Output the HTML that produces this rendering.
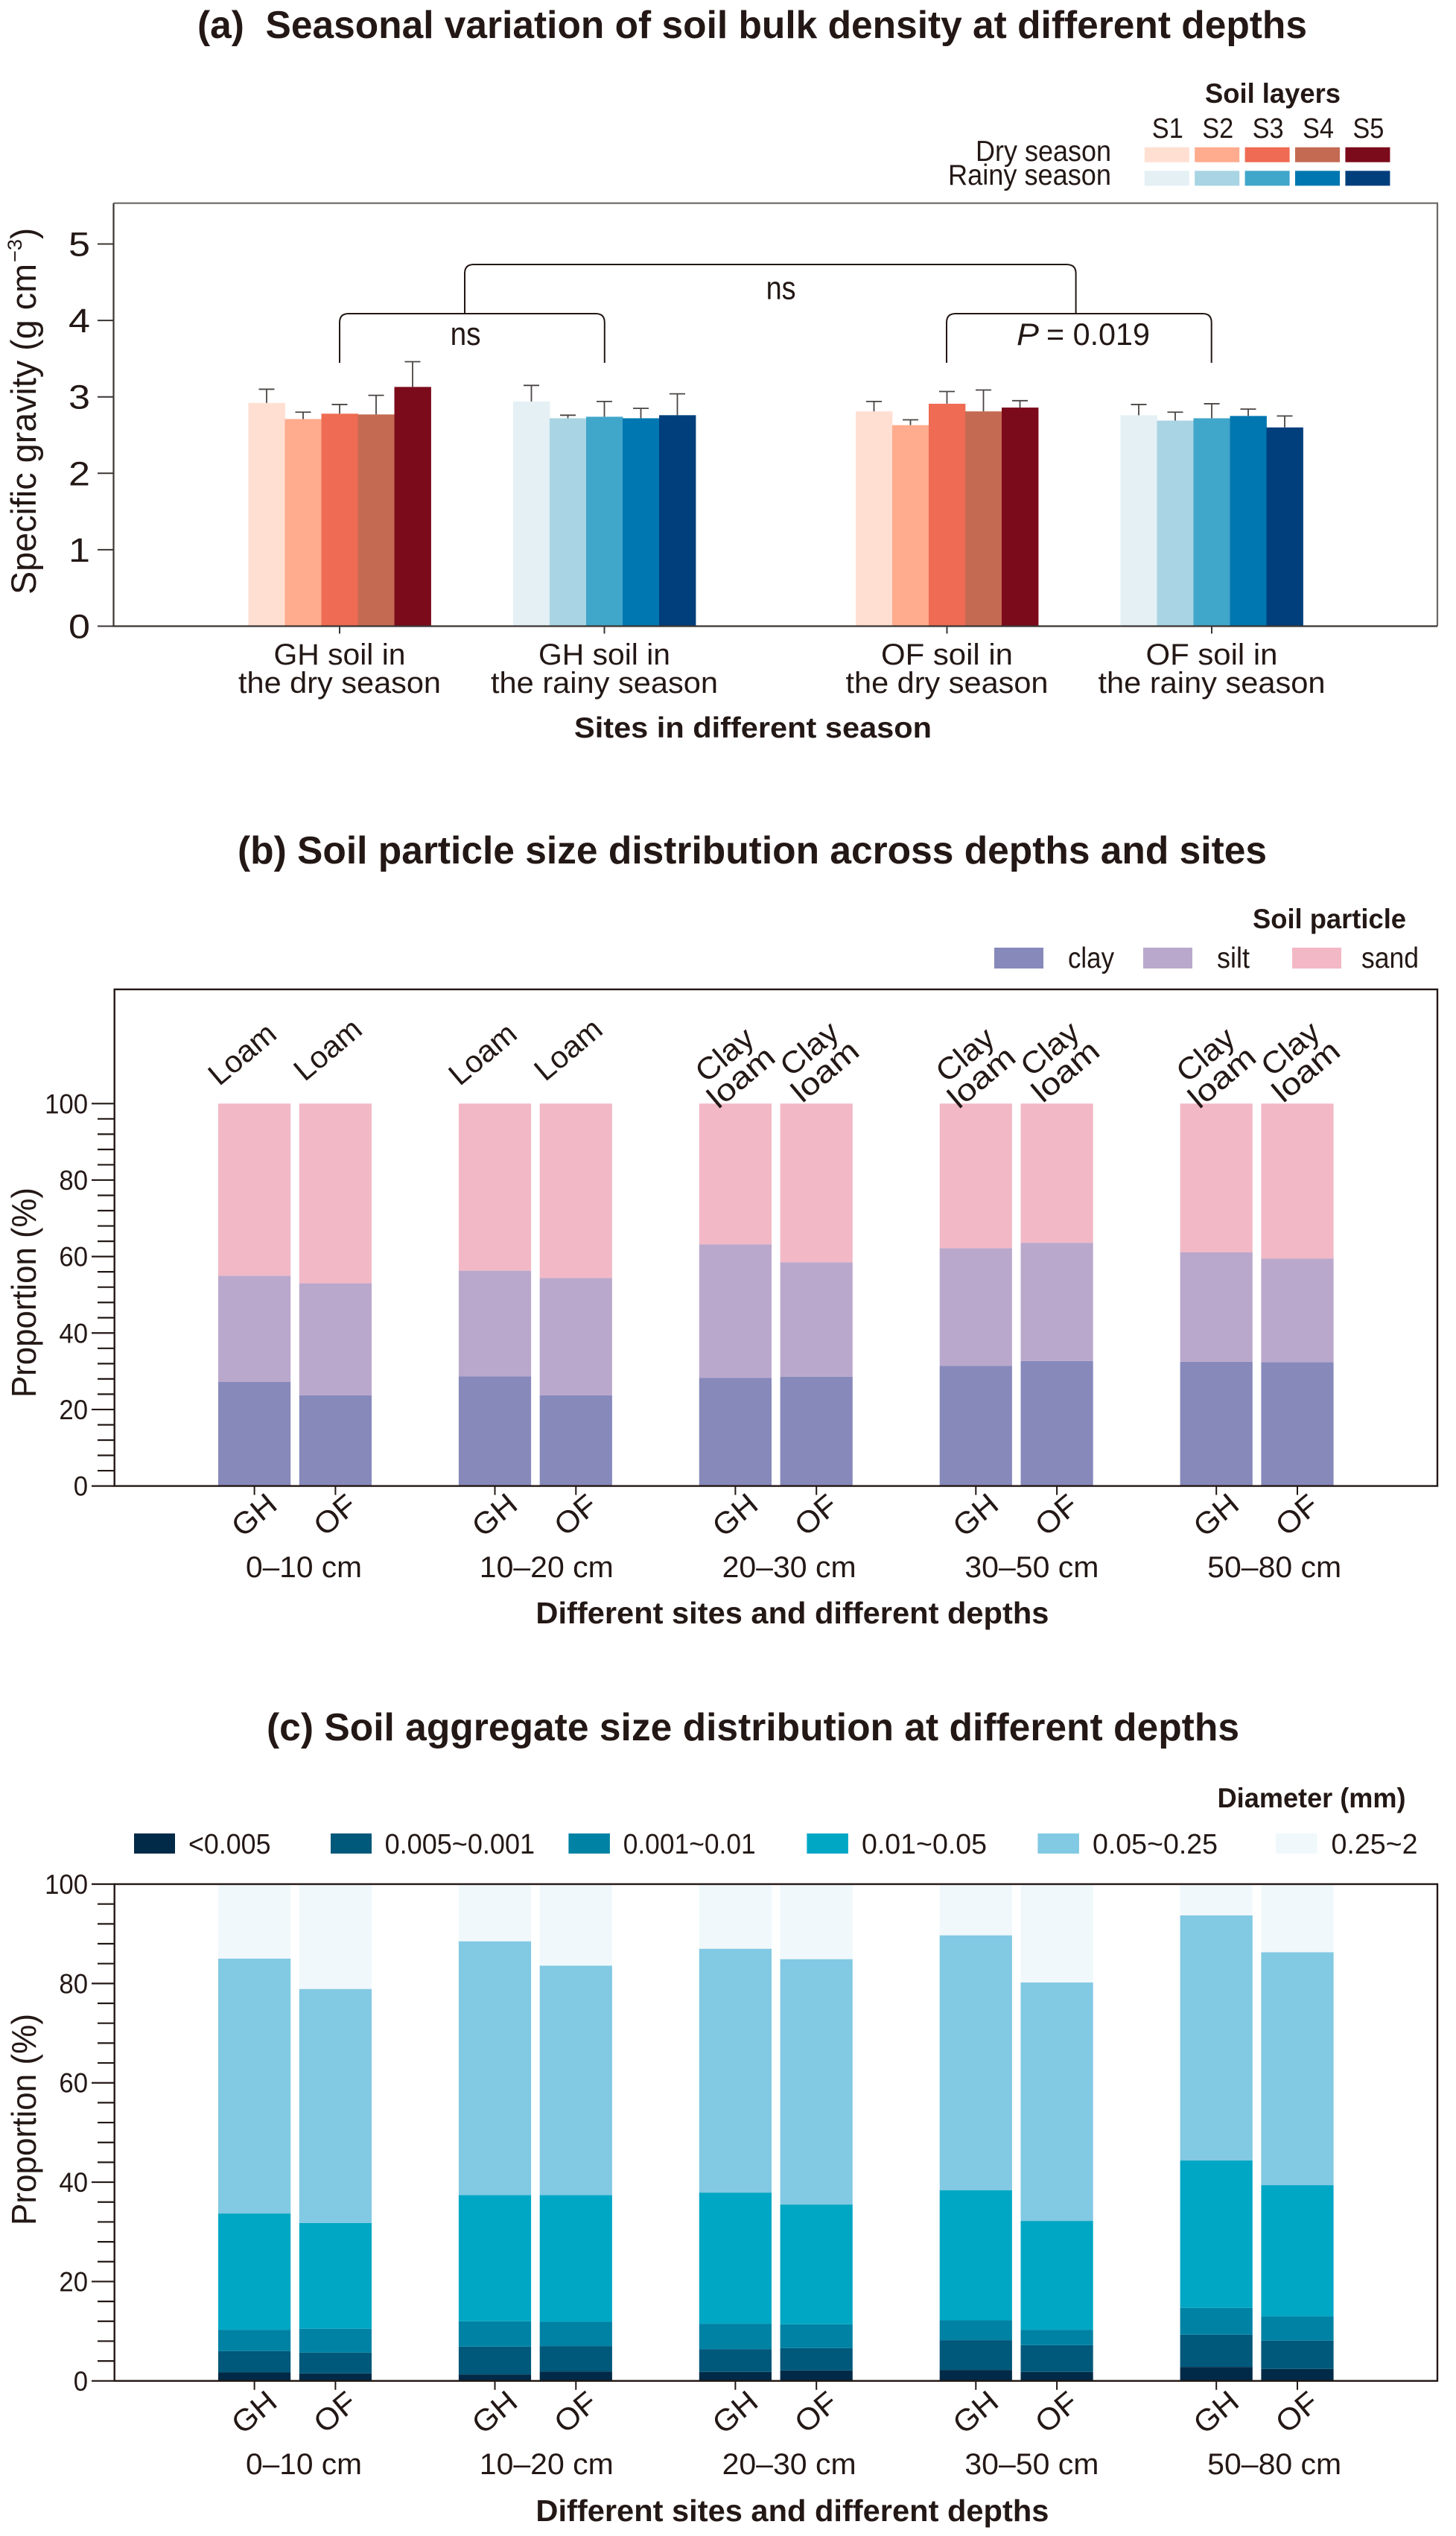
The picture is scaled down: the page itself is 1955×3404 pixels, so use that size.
<!DOCTYPE html>
<html lang="en">
<head>
<meta charset="utf-8">
<title>Soil properties at different depths</title>
<style>
html,body{margin:0;padding:0;background:#fff;}
svg{display:block;font-family:"Liberation Sans",Arial,sans-serif;fill:#231815;}
</style>
</head>
<body>
<svg id="figure" xmlns="http://www.w3.org/2000/svg" width="1955" height="3404" viewBox="0 0 1955 3404">
<rect x="0" y="0" width="1955" height="3404" fill="#fff"/>

<!-- Panel A -->
<text x="265" y="51" font-size="52" font-weight="700" textLength="1490" lengthAdjust="spacingAndGlyphs" xml:space="preserve">(a)  Seasonal variation of soil bulk density at different depths</text>
<text x="1618" y="138" font-size="37" font-weight="700" textLength="182" lengthAdjust="spacingAndGlyphs">Soil layers</text>
<text x="1310" y="216" font-size="39" textLength="182" lengthAdjust="spacingAndGlyphs">Dry season</text>
<text x="1273" y="248" font-size="39" textLength="219" lengthAdjust="spacingAndGlyphs">Rainy season</text>
<g id="a-legend"></g>
<g id="a-bars"></g>
<path d="M152.5 272.7H1930V840.5" fill="none" stroke="#6b6765" stroke-width="2.2"/>
<path d="M152.5 272.7V840.5H1930" fill="none" stroke="#3a3533" stroke-width="2.2"/>
<g id="a-axes"></g>
<path d="M624 421V367Q624 355 636 355H1432Q1444.6 355 1444.6 367V421" fill="none" stroke="#231815" stroke-width="2"/>
<path d="M456 487V433Q456 421 468 421H800Q811.8 421 811.8 433V487" fill="none" stroke="#231815" stroke-width="2"/>
<path d="M1271 487V433Q1271 421 1283 421H1615Q1626.7 421 1626.7 433V487" fill="none" stroke="#231815" stroke-width="2"/>
<text x="604.6" y="463" font-size="44" textLength="41" lengthAdjust="spacingAndGlyphs">ns</text>
<text x="1028.6" y="401.6" font-size="44" textLength="40" lengthAdjust="spacingAndGlyphs">ns</text>
<text x="1365" y="463" font-size="42" font-style="italic" textLength="30" lengthAdjust="spacingAndGlyphs">P</text>
<text x="1405" y="463" font-size="42" textLength="139" lengthAdjust="spacingAndGlyphs">= 0.019</text>
<text transform="translate(48,798) rotate(-90)" x="0" y="0" font-size="47" textLength="444" lengthAdjust="spacingAndGlyphs">Specific gravity (g cm</text>
<text transform="translate(29,352) rotate(-90)" x="0" y="0" font-size="27" textLength="31" lengthAdjust="spacingAndGlyphs">−3</text>
<text transform="translate(48,321) rotate(-90)" x="0" y="0" font-size="47" textLength="15" lengthAdjust="spacingAndGlyphs">)</text>
<text x="771" y="990" font-size="39" font-weight="700" textLength="480" lengthAdjust="spacingAndGlyphs">Sites in different season</text>

<!-- Panel B -->
<text x="319" y="1159" font-size="52" font-weight="700" textLength="1382" lengthAdjust="spacingAndGlyphs">(b) Soil particle size distribution across depths and sites</text>
<text x="1682" y="1246" font-size="37" font-weight="700" textLength="206" lengthAdjust="spacingAndGlyphs">Soil particle</text>
<g id="b-legend"></g>
<g id="b-bars"></g>
<rect x="153.7" y="1328" width="1776.3" height="666.6" fill="none" stroke="#231815" stroke-width="2.4"/>
<g id="b-axes"></g>
<text transform="translate(48,1876) rotate(-90)" x="0" y="0" font-size="46" textLength="282" lengthAdjust="spacingAndGlyphs">Proportion (%)</text>
<text x="719.4" y="2179" font-size="41" font-weight="700" textLength="689" lengthAdjust="spacingAndGlyphs">Different sites and different depths</text>

<!-- Panel C -->
<text x="358" y="2336" font-size="52" font-weight="700" textLength="1306" lengthAdjust="spacingAndGlyphs">(c) Soil aggregate size distribution at different depths</text>
<text x="1634.6" y="2426" font-size="37" font-weight="700" textLength="253" lengthAdjust="spacingAndGlyphs">Diameter (mm)</text>
<g id="c-legend"></g>
<g id="c-bars"></g>
<rect x="153.7" y="2529" width="1776.3" height="666.8" fill="none" stroke="#231815" stroke-width="2.4"/>
<g id="c-axes"></g>
<text transform="translate(48,2987) rotate(-90)" x="0" y="0" font-size="46" textLength="284" lengthAdjust="spacingAndGlyphs">Proportion (%)</text>
<text x="719.4" y="3384" font-size="41" font-weight="700" textLength="689" lengthAdjust="spacingAndGlyphs">Different sites and different depths</text>
</svg>

<script>
// ---- Panel A data ----
const aLayers = ['S1', 'S2', 'S3', 'S4', 'S5'];
const aGroupLine1 = ['GH soil in', 'GH soil in', 'OF soil in', 'OF soil in'];
const aGroupLine2 = ['the dry season', 'the rainy season', 'the dry season', 'the rainy season'];
const aMeansGhDry = [2.92, 2.71, 2.78, 2.77, 3.13];
const aMeansGhRainy = [2.94, 2.72, 2.74, 2.72, 2.76];
const aMeansOfDry = [2.81, 2.63, 2.91, 2.81, 2.86];
const aMeansOfRainy = [2.76, 2.69, 2.72, 2.75, 2.60];
const aErrGhDry = [0.18, 0.09, 0.12, 0.25, 0.33];
const aErrGhRainy = [0.21, 0.04, 0.20, 0.13, 0.28];
const aErrOfDry = [0.13, 0.07, 0.16, 0.28, 0.09];
const aErrOfRainy = [0.14, 0.11, 0.19, 0.09, 0.15];
const aYTicks = [0, 1, 2, 3, 4, 5];

// ---- Panel B data ----
const depths = ['0–10 cm', '10–20 cm', '20–30 cm', '30–50 cm', '50–80 cm'];
const sites = ['GH', 'OF'];
const bClay = [27.2, 23.7, 28.7, 23.7, 28.3, 28.6, 31.4, 32.7, 32.5, 32.4];
const bSilt = [27.8, 29.3, 27.6, 30.7, 34.9, 29.9, 30.8, 30.9, 28.6, 27.1];
const bSand = [45.0, 47.0, 43.7, 45.6, 36.8, 41.5, 37.8, 36.4, 38.9, 40.5];
const bTexture = ['Loam', 'Loam', 'Loam', 'Loam', 'Clay loam', 'Clay loam', 'Clay loam', 'Clay loam', 'Clay loam', 'Clay loam'];
const propTicks = [0, 20, 40, 60, 80, 100];
const bSeriesNames = ['clay', 'silt', 'sand'];

// ---- Panel C data ----
const cLt0005 = [1.7, 1.5, 1.3, 1.9, 1.8, 2.1, 2.2, 1.8, 2.8, 2.4];
const c0005to0001 = [4.3, 4.2, 5.6, 5.1, 4.6, 4.5, 6.0, 5.4, 6.5, 5.7];
const c0001to001 = [4.3, 4.8, 5.1, 4.9, 5.1, 4.8, 4.0, 3.1, 5.4, 4.9];
const c001to005 = [23.4, 21.3, 25.4, 25.5, 26.4, 24.1, 26.2, 21.9, 29.7, 26.4];
const c005to025 = [51.3, 47.1, 51.1, 46.2, 49.1, 49.4, 51.3, 48.0, 49.3, 46.9];
const c025to2 = [15.0, 21.1, 11.5, 16.4, 13.0, 15.1, 10.3, 19.8, 6.3, 13.7];
const cSeriesNames = ['<0.005', '0.005~0.001', '0.001~0.01', '0.01~0.05', '0.05~0.25', '0.25~2'];

// ---- Colours ----
const dryColors = ['#ffdfd2', '#ffab8e', '#ef6b53', '#c46a53', '#7b0a1b'];
const rainyColors = ['#e4f0f4', '#a8d4e3', '#40a6ca', '#0077b0', '#003f7c'];
const bColors = ['#8789bb', '#baa8cc', '#f2b8c6'];
const cColors = ['#002a47', '#00587a', '#0082a4', '#00a7c4', '#82c9e3', '#f0f8fb'];

const NS = 'http://www.w3.org/2000/svg';
const INK = '#231815';

function node(parent, tag, attrs) {
  const el = document.createElementNS(NS, tag);
  for (const k in attrs) el.setAttribute(k, attrs[k]);
  parent.appendChild(el);
  return el;
}
function label(parent, x, y, str, size, len, anchor) {
  const el = node(parent, 'text', {
    x: x, y: y, 'font-size': size, 'text-anchor': anchor || 'middle',
    textLength: len, lengthAdjust: 'spacingAndGlyphs'
  });
  el.textContent = str;
  return el;
}
function rotated(parent, cx, cy, str, size, len, angle) {
  const el = node(parent, 'text', {
    x: 0, y: size * 0.36, 'font-size': size, 'text-anchor': 'middle',
    textLength: len, lengthAdjust: 'spacingAndGlyphs',
    transform: 'translate(' + cx + ',' + cy + ') rotate(' + angle + ')'
  });
  el.textContent = str;
  return el;
}
function line(parent, x1, y1, x2, y2, color, w) {
  return node(parent, 'line', { x1: x1, y1: y1, x2: x2, y2: y2, stroke: color, 'stroke-width': w });
}

// ---- Axis functions ----
const yA = v => 840.5 - v * 102.6;
const yB = v => 1994.6 - v * 5.133;
const yC = v => 3195.8 - v * 6.668;
const xGroupA = g => 456 + 355.5 * g + (g >= 2 ? 104.5 : 0);
const xBarA = (g, s) => xGroupA(g) + (s - 2.5) * 49;
const xDepth = d => 396 + 322.9 * d;
const xDepthLabel = d => 408 + 325.8 * d;
const xSite = (d, s) => xDepth(d) + (s === 0 ? -54.4 : 54.4);
const BAR_W = 97.2;

// ---- Panel A drawing ----
const aBars = document.getElementById('a-bars');
const aAxes = document.getElementById('a-axes');
const aLegend = document.getElementById('a-legend');
const aMeans = [aMeansGhDry, aMeansGhRainy, aMeansOfDry, aMeansOfRainy];
const aErrs = [aErrGhDry, aErrGhRainy, aErrOfDry, aErrOfRainy];

aMeans.forEach((vals, g) => {
  const palette = g % 2 === 0 ? dryColors : rainyColors;
  vals.forEach((v, s) => {
    const x = xBarA(g, s);
    const rect = node(aBars, 'rect', { x: x, y: yA(v), width: 49.4, height: yA(0) - yA(v), fill: palette[s] });
    
    
    const top = yA(v + aErrs[g][s]);
    const err = node(aBars, 'path', {
      d: 'M' + (x + 24.5) + ' ' + yA(v) + 'V' + top + 'M' + (x + 14) + ' ' + top + 'H' + (x + 35),
      fill: 'none', stroke: '#4a4543', 'stroke-width': 1.8
    });
    
    
  });
  const tick = line(aAxes, xGroupA(g), yA(0), xGroupA(g), yA(0) + 10, '#3a3533', 2);
  
  
  const l1 = label(aAxes, xGroupA(g), 892, aGroupLine1[g], 40, 177);
  
  
  const l2 = label(aAxes, xGroupA(g), 930, aGroupLine2[g], 40, g % 2 === 0 ? 272 : 305);
  
  
});

aYTicks.forEach(v => {
  const tick = line(aAxes, 131, yA(v), 152.5, yA(v), '#3a3533', 2);
  
  
  const t = label(aAxes, 121, yA(v) + 16, String(v), 45, 29, 'end');
  
  
});

aLayers.forEach((name, s) => {
  const x = 1536.8 + s * 67.4;
  const head = label(aLegend, x + 31, 185, name, 38, 42);
  
  
  const dry = node(aLegend, 'rect', { x: x, y: 197.7, width: 60, height: 20, fill: dryColors[s] });
  
  
  const rainy = node(aLegend, 'rect', { x: x, y: 229.3, width: 60, height: 20, fill: rainyColors[s] });
  
  
});

// ---- Shared axes for panels B and C ----
function proportionAxis(group, yFn) {
  for (let v = 0; v <= 100; v += 4) {
    const major = v % 20 === 0;
    const tick = line(group, major ? 123 : 131, yFn(v), 153.7, yFn(v), INK, 2.2);
    
    
  }
  propTicks.forEach(v => {
    const s = String(v);
    const t = label(group, 118, yFn(v) + 13, s, 37, 19.3 * s.length, 'end');
    
    
  });
}
function siteAxis(group, baseY, labelOffset, depthBaseline) {
  depths.forEach((depth, d) => {
    sites.forEach((site, s) => {
      const x = xSite(d, s);
      const tick = line(group, x, baseY, x, baseY + 12, INK, 2);
      
      
      const t = rotated(group, x - 1, baseY + labelOffset, site, 41, site === 'GH' ? 64 : 60, -40);
      
      
    });
    const dl = label(group, xDepthLabel(d), depthBaseline, depth, 40, d === 0 ? 156 : 180);
    
    
  });
}
function stackedBars(group, series, colors, names, yFn) {
  const count = series[0].length;
  for (let i = 0; i < count; i++) {
    const d = Math.floor(i / 2);
    const s = i % 2;
    let base = 0;
    series.forEach((vals, k) => {
      const top = base + vals[i];
      const rect = node(group, 'rect', {
        x: xSite(d, s) - BAR_W / 2, y: yFn(top), width: BAR_W, height: yFn(base) - yFn(top), fill: colors[k]
      });
      
      
      base = top;
    });
  }
}

// ---- Panel B drawing ----
const bBars = document.getElementById('b-bars');
const bAxes = document.getElementById('b-axes');
const bLegend = document.getElementById('b-legend');
stackedBars(bBars, [bClay, bSilt, bSand], bColors, bSeriesNames, yB);
proportionAxis(bAxes, yB);
siteAxis(bAxes, yB(0), 38.4, 2117);

bTexture.forEach((tex, i) => {
  const d = Math.floor(i / 2);
  const s = i % 2;
  const x = xSite(d, s);
  if (tex === 'Loam') {
    const t = rotated(bAxes, x + (s === 0 ? -17 : -11), s === 0 ? 1414 : 1408, tex, 41, 104, -40);
    
    
  } else {
    const parts = tex.split(' ');
    const a = rotated(bAxes, x + (s === 0 ? -15 : -10), s === 0 ? 1415 : 1407, parts[0], 41, 88, -40);
    
    
    const b = rotated(bAxes, x + (s === 0 ? 7 : 11), s === 0 ? 1445 : 1437, parts[1], 41, 104, -40);
    
    
  }
});

bSeriesNames.forEach((name, k) => {
  const x = 1335 + k * 200;
  const sw = node(bLegend, 'rect', { x: x, y: 1272, width: 66, height: 28, fill: bColors[k] });
  
  
  const t = label(bLegend, x + (k === 2 ? 93 : 99), 1299, name, 39, k === 0 ? 62 : (k === 1 ? 44 : 77), 'start');
  
  
});

// ---- Panel C drawing ----
const cBars = document.getElementById('c-bars');
const cAxes = document.getElementById('c-axes');
const cLegend = document.getElementById('c-legend');
const cSeries = [cLt0005, c0005to0001, c0001to001, c001to005, c005to025, c025to2];
stackedBars(cBars, cSeries, cColors, ['lt-0.005', '0.005-0.001', '0.001-0.01', '0.01-0.05', '0.05-0.25', '0.25-2'], yC);
proportionAxis(cAxes, yC);
siteAxis(cAxes, yC(0), 41.5, 3321);

const cSwatchStart = [180, 444, 763.4, 1083.4, 1393.4, 1713];
const cSwatchWidth = [55, 55, 55.5, 55.5, 55.5, 55.5];
const cLabelStart = [253, 516.6, 836.7, 1157, 1467, 1787.5];
const cLabelWidth = [110.5, 201.5, 178, 168, 168, 116];
cSeriesNames.forEach((name, k) => {
  const sw = node(cLegend, 'rect', { x: cSwatchStart[k], y: 2461, width: cSwatchWidth[k], height: 27, fill: cColors[k] });
  
  
  const t = label(cLegend, cLabelStart[k], 2488, name, 38, cLabelWidth[k], 'start');
  
  
});
</script>
</body>
</html>
